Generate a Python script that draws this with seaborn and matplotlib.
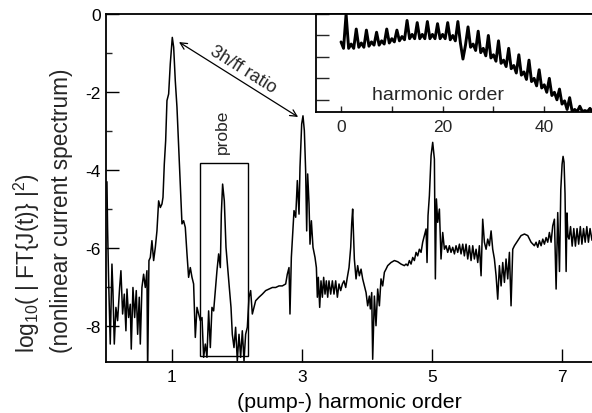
import numpy as np
import pandas as pd
import matplotlib
matplotlib.use("Agg")
import matplotlib.pyplot as plt
from matplotlib.patches import Rectangle
import seaborn as sns

# main spectrum (pump harmonic order vs log10 power)
main_order = [
    0.000, 0.010, 0.026, 0.051, 0.077, 0.092, 0.113, 0.138, 0.164, 0.195,
    0.215, 0.241, 0.267, 0.292, 0.308, 0.333, 0.359, 0.374, 0.400, 0.426,
    0.451, 0.472, 0.497, 0.513, 0.538, 0.564, 0.590, 0.615, 0.626, 0.646,
    0.667, 0.692, 0.718, 0.744, 0.769, 0.795, 0.821, 0.846, 0.862, 0.882,
    0.903, 0.923, 0.949, 0.974, 1.005, 1.026, 1.051, 1.077, 1.103, 1.128,
    1.154, 1.179, 1.205, 1.231, 1.256, 1.282, 1.308, 1.333, 1.359, 1.385,
    1.410, 1.436, 1.462, 1.487, 1.513, 1.538, 1.564, 1.590, 1.615, 1.641,
    1.667, 1.692, 1.718, 1.744, 1.759, 1.779, 1.805, 1.831, 1.856, 1.882,
    1.908, 1.928, 1.954, 1.979, 2.005, 2.031, 2.056, 2.082, 2.108, 2.133,
    2.159, 2.185, 2.210, 2.236, 2.262, 2.287, 2.338, 2.390, 2.441, 2.492,
    2.544, 2.595, 2.646, 2.697, 2.749, 2.774, 2.800, 2.815, 2.836, 2.851,
    2.877, 2.903, 2.928, 2.954, 2.969, 2.995, 3.015, 3.036, 3.056, 3.072,
    3.087, 3.108, 3.123, 3.144, 3.169, 3.200, 3.221, 3.236, 3.251, 3.272,
    3.292, 3.313, 3.333, 3.354, 3.374, 3.395, 3.415, 3.441, 3.467, 3.492,
    3.518, 3.544, 3.569, 3.595, 3.621, 3.646, 3.672, 3.697, 3.723, 3.749,
    3.764, 3.779, 3.805, 3.831, 3.856, 3.882, 3.908, 3.933, 3.959, 3.985,
    4.010, 4.036, 4.051, 4.072, 4.087, 4.113, 4.138, 4.164, 4.190, 4.215,
    4.241, 4.267, 4.292, 4.318, 4.369, 4.421, 4.472, 4.523, 4.574, 4.600,
    4.626, 4.651, 4.677, 4.703, 4.728, 4.754, 4.779, 4.805, 4.831, 4.856,
    4.882, 4.908, 4.923, 4.938, 4.959, 4.985, 5.010, 5.036, 5.051, 5.067,
    5.087, 5.113, 5.138, 5.164, 5.190, 5.215, 5.241, 5.267, 5.292, 5.318,
    5.344, 5.369, 5.395, 5.421, 5.446, 5.472, 5.497, 5.523, 5.549, 5.574,
    5.600, 5.626, 5.651, 5.677, 5.703, 5.728, 5.754, 5.779, 5.805, 5.831,
    5.856, 5.882, 5.908, 5.933, 5.959, 5.985, 6.010, 6.036, 6.062, 6.087,
    6.113, 6.138, 6.164, 6.190, 6.215, 6.241, 6.267, 6.318, 6.369, 6.421,
    6.472, 6.523, 6.574, 6.600, 6.626, 6.651, 6.677, 6.703, 6.728, 6.754,
    6.779, 6.805, 6.831, 6.856, 6.882, 6.908, 6.933, 6.960, 6.980, 7.000,
    7.015, 7.030, 7.045, 7.062, 7.075, 7.090, 7.107, 7.130, 7.155, 7.180,
    7.205, 7.230, 7.255, 7.280, 7.305, 7.330, 7.355, 7.380, 7.405, 7.430,
    7.460,
]
main_logpow = [
    -4.30, -5.50, -6.84, -8.46, -6.41, -7.09, -8.46, -7.52, -7.86, -7.01,
    -6.58, -7.69, -7.18, -8.12, -7.05, -7.78, -7.44, -8.59, -7.01, -7.78,
    -7.09, -8.21, -7.26, -8.46, -7.01, -6.67, -7.01, -6.58, -9.20, -6.32,
    -6.24, -5.81, -6.32, -5.98, -5.56, -4.79, -4.96, -4.87, -4.70, -3.85,
    -3.25, -2.22, -2.05, -1.28, -0.60, -0.85, -1.71, -2.39, -3.42, -4.44,
    -5.38, -5.30, -5.47, -6.15, -6.75, -6.50, -6.75, -6.92, -8.29, -7.52,
    -7.69, -7.86, -7.78, -8.80, -8.46, -8.80, -7.61, -8.55, -7.52, -7.61,
    -7.09, -6.58, -6.15, -6.50, -5.13, -4.36, -4.79, -5.98, -6.50, -7.01,
    -7.52, -8.21, -8.55, -8.03, -8.89, -8.21, -8.80, -8.12, -8.89, -8.21,
    -8.03, -7.26, -7.09, -7.69, -7.52, -7.35, -7.26, -7.18, -7.09, -7.05,
    -7.01, -7.01, -6.97, -6.97, -6.92, -6.67, -6.50, -7.69, -6.24, -5.81,
    -5.04, -5.21, -4.27, -5.13, -3.93, -2.82, -2.61, -2.99, -4.02, -5.56,
    -4.10, -4.87, -5.90, -5.30, -5.98, -6.24, -6.50, -7.26, -6.75, -7.52,
    -6.84, -7.26, -6.75, -7.18, -6.84, -7.26, -6.84, -7.18, -6.84, -7.18,
    -6.84, -7.26, -6.92, -7.09, -6.92, -6.84, -7.01, -6.75, -6.50, -5.98,
    -5.38, -5.00, -6.28, -6.79, -6.45, -6.71, -6.54, -6.79, -6.97, -7.14,
    -7.48, -7.23, -7.56, -7.14, -8.85, -7.23, -7.99, -7.05, -7.48, -6.79,
    -6.97, -6.62, -6.54, -6.45, -6.37, -6.32, -6.35, -6.41, -6.45, -6.41,
    -6.45, -6.32, -6.41, -6.24, -6.32, -6.11, -6.20, -6.03, -6.11, -5.85,
    -5.68, -5.51, -6.37, -5.17, -4.66, -3.63, -3.29, -3.72, -6.79, -4.74,
    -5.34, -5.00, -6.28, -5.60, -6.03, -5.94, -6.11, -5.94, -6.11, -5.98,
    -6.15, -5.94, -6.11, -5.90, -6.15, -5.90, -6.20, -5.90, -6.28, -5.94,
    -6.32, -5.94, -6.28, -6.03, -6.37, -5.94, -6.71, -5.26, -5.85, -6.03,
    -5.77, -5.94, -5.56, -6.03, -6.28, -6.71, -7.31, -6.45, -6.97, -6.37,
    -6.88, -6.28, -6.79, -6.11, -7.48, -6.03, -5.94, -5.81, -5.68, -5.64,
    -5.68, -5.85, -5.94, -5.85, -5.98, -5.81, -5.94, -5.77, -5.90, -5.73,
    -5.85, -5.60, -5.85, -5.43, -5.26, -7.05, -5.09, -6.60, -4.50, -3.85,
    -3.65, -3.80, -4.60, -6.60, -5.10, -5.70, -5.77, -5.45, -5.95, -5.50,
    -5.95, -5.50, -5.90, -5.45, -5.90, -5.50, -5.85, -5.45, -5.85, -5.50,
    -5.80,
]
main_xticks = [1, 3, 5, 7]
main_yticks = [0, -2, -4, -6, -8]

# inset: full high-harmonic spectrum, sampled every half order
inset_order = np.arange(0, 50, 0.5)
inset_logpow = [
    -1.30, -1.60, 0.00, -1.60, -1.40, -1.60, -0.70, -1.55, -1.35, -1.55,
    -0.75, -1.50, -1.30, -1.45, -0.85, -1.45, -1.25, -1.40, -0.70, -1.35,
    -1.15, -1.30, -0.75, -1.25, -1.05, -1.20, -0.30, -1.15, -0.95, -1.15,
    -0.40, -1.15, -0.95, -1.15, -0.35, -1.15, -0.95, -1.15, -0.45, -1.15,
    -0.95, -1.15, -0.40, -1.20, -1.00, -1.25, -0.35, -1.35, -2.10, -1.45,
    -0.60, -1.55, -1.40, -1.70, -0.80, -1.80, -1.60, -1.95, -1.00, -2.05,
    -1.90, -2.20, -1.25, -2.30, -2.15, -2.45, -1.60, -2.55, -2.40, -2.75,
    -1.90, -2.85, -2.70, -3.05, -2.15, -3.15, -3.00, -3.35, -2.60, -3.45,
    -3.30, -3.65, -3.00, -3.80, -3.65, -4.00, -3.50, -4.20, -4.05, -4.45,
    -3.90, -4.55, -4.45, -4.55, -4.30, -4.55, -4.50, -4.55, -4.40, -4.55,
]
inset_xticks = [0, 20, 40]
inset_xminor = [10, 30]
inset_yticks = [0, -1, -2, -3, -4]

probe_box = (1.43, -8.77, 0.74, 4.95)   # x, y, width, height

sns.set_theme(style="ticks")
plt.rcParams["font.family"] = ["Liberation Sans", "DejaVu Sans"]
plt.rcParams["mathtext.fontset"] = "custom"
plt.rcParams["mathtext.rm"] = "Liberation Sans"
plt.rcParams["axes.unicode_minus"] = False

main_df = pd.DataFrame({"order": main_order, "logpow": main_logpow})
inset_df = pd.DataFrame({"order": inset_order, "logpow": inset_logpow})

fig = plt.figure(figsize=(5.92, 4.14), dpi=100)
ax = fig.add_axes([0.179, 0.1232, 0.821, 0.8406])

sns.lineplot(data=main_df, x="order", y="logpow", ax=ax, color="black",
             lw=1.1, sort=False, estimator=None)
ax.set_xlim(-0.015, 7.46)
ax.set_ylim(-8.92, 0)
ax.set_xticks(main_xticks)
ax.set_yticks(main_yticks)
ax.set_yticks([-1, -3, -5, -7], minor=True)
ax.tick_params(axis="both", which="major", direction="in", length=9.5,
               width=1, labelsize=12.5, color="black", labelcolor="black")
ax.tick_params(axis="x", pad=5)
ax.tick_params(axis="y", which="minor", direction="in", length=4.5, width=1)
for s in ["left", "bottom", "top"]:
    ax.spines[s].set_color("black")
    ax.spines[s].set_linewidth(1.3)
ax.spines["right"].set_visible(False)
ax.set_xlabel("(pump-) harmonic order", fontsize=15.4, labelpad=6, color="black")
ax.set_ylabel("")

fig.text(0.071, 0.147,
         "log$_{10}$( | FT{J(t)} |$^2$)\n(nonlinear current spectrum)",
         rotation=90, ha="center", va="bottom", multialignment="left",
         fontsize=16.3, linespacing=1.45)

ax.add_patch(Rectangle(probe_box[:2], probe_box[2], probe_box[3],
                       fill=False, edgecolor="black", lw=1.0))
ax.text(1.777, -3.0, "probe", rotation=90, ha="center", va="center", fontsize=12.5)

ax.annotate("", xy=(1.108, -0.72), xytext=(2.94, -2.64),
            arrowprops=dict(arrowstyle="<->", color="black", lw=0.9,
                            shrinkA=0, shrinkB=0))
ax.text(2.09, -1.41, "3h/ff ratio", rotation=-32, ha="center", va="center",
        fontsize=13, rotation_mode="anchor")

# inset
axi = fig.add_axes([0.5338, 0.727, 0.4662, 0.2367])
axi.set_facecolor("white")
sns.lineplot(data=inset_df, x="order", y="logpow", ax=axi, color="black",
             lw=2.1, sort=False, estimator=None)
axi.set_xlim(-4.92, 49.4)
axi.set_ylim(-4.57, 0)
axi.set_xticks(inset_xticks)
axi.set_xticks(inset_xminor, minor=True)
axi.set_yticks(inset_yticks)
axi.set_yticklabels([])
axi.tick_params(axis="x", which="both", direction="in", length=4.5, width=1,
                labelsize=12.5, pad=5)
axi.tick_params(axis="y", direction="in", length=9.5, width=1)
for s in ["left", "bottom", "top"]:
    axi.spines[s].set_color("black")
    axi.spines[s].set_linewidth(1.3)
axi.spines["right"].set_visible(False)
axi.set_xlabel("")
axi.set_ylabel("")
axi.text(19.1, -3.77, "harmonic order", ha="center", va="center", fontsize=14)

fig.savefig("out.png", dpi=100)
